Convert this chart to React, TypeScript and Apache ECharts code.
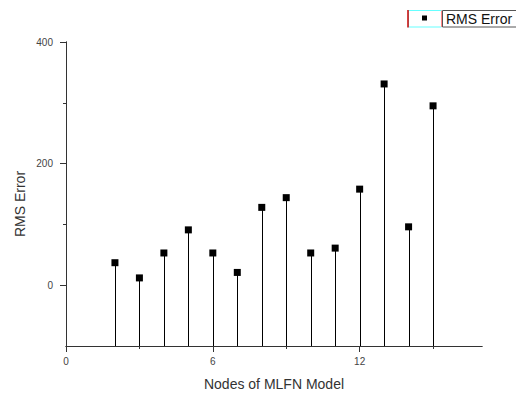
import React, { useEffect, useRef } from "react";
import * as echarts from "echarts";

const nodes = [2, 3, 4, 5, 6, 7, 8, 9, 10, 11, 12, 13, 14, 15];
const rmsError = [37, 12, 53, 91, 53, 21, 128, 144, 53, 61, 158, 331, 96, 295];
const xMajorTicks = [0, 6, 12];
const xMinorTicks = [3, 9, 15];
const yMajorTicks = [0, 200, 400];
const yMinorTicks = [100, 300];
const seriesName = "RMS Error";
const xName = "Nodes of MLFN Model";
const yName = "RMS Error";

const FONT = "'Liberation Sans', Arial, sans-serif";

export default function App() {
  const ref = useRef<HTMLDivElement>(null);
  useEffect(() => {
    if (!ref.current) return;
    const chart = echarts.init(ref.current, null, { renderer: "svg" });
    const data = nodes.map((n, i) => [n, rmsError[i]]);
    const yMin = -100;
    const yMax = 400;
    const xMin = 0;
    const xMax = 17;
    const grid = { left: 66, right: 34, top: 42, bottom: 46 };
    const axisColor = "#333";
    chart.setOption({
      animation: false,
      backgroundColor: "#fff",
      grid,
      xAxis: [
        {
          type: "value",
          min: xMin,
          max: xMax,
          position: "bottom",
          name: xName,
          nameLocation: "middle",
          nameGap: 31,
          nameTextStyle: { fontFamily: FONT, fontSize: 14, color: "#333" },
          axisLine: { show: true, onZero: false, lineStyle: { color: axisColor, width: 1 } },
          axisTick: { show: true, length: 6, customValues: xMajorTicks, lineStyle: { color: axisColor } },
          axisLabel: { customValues: xMajorTicks, margin: 10, fontFamily: FONT, fontSize: 10, color: "#444" },
          splitLine: { show: false },
        },
        {
          type: "value",
          min: xMin,
          max: xMax,
          position: "bottom",
          axisLine: { show: true, onZero: false, lineStyle: { color: axisColor, width: 1 } },
          axisTick: { show: true, length: 3, customValues: xMinorTicks, lineStyle: { color: axisColor } },
          axisLabel: { show: false },
          splitLine: { show: false },
        },
      ],
      yAxis: [
        {
          type: "value",
          min: yMin,
          max: yMax,
          position: "left",
          axisLine: { show: true, onZero: false, lineStyle: { color: axisColor, width: 1 } },
          axisTick: { show: true, length: 6, customValues: yMajorTicks, lineStyle: { color: axisColor } },
          axisLabel: { customValues: yMajorTicks, margin: 13, fontFamily: FONT, fontSize: 10, color: "#444" },
          splitLine: { show: false },
        },
        {
          type: "value",
          min: yMin,
          max: yMax,
          position: "left",
          axisLine: { show: true, onZero: false, lineStyle: { color: axisColor, width: 1 } },
          axisTick: { show: true, length: 3, customValues: yMinorTicks, lineStyle: { color: axisColor } },
          axisLabel: { show: false },
          splitLine: { show: false },
        },
      ],
      series: [
        {
          type: "custom",
          name: seriesName + " stems",
          xAxisIndex: 0,
          yAxisIndex: 0,
          data,
          renderItem: (params: any, api: any) => {
            const x = api.value(0);
            const y = api.value(1);
            const top = api.coord([x, y]);
            const bottom = api.coord([x, yMin]);
            return {
              type: "line",
              shape: { x1: Math.round(top[0]) + 0.5, y1: top[1], x2: Math.round(bottom[0]) + 0.5, y2: bottom[1] },
              style: { stroke: "#000", lineWidth: 1 },
            };
          },
          z: 2,
        },
        {
          type: "scatter",
          name: seriesName,
          xAxisIndex: 0,
          yAxisIndex: 0,
          data,
          symbol: "rect",
          symbolSize: 7,
          itemStyle: { color: "#000", opacity: 1 },
          z: 3,
        },
      ],
      graphic: [
        {
          type: "text",
          x: 20,
          y: 204,
          rotation: Math.PI / 2,
          style: {
            text: yName,
            fontFamily: FONT,
            fontSize: 14,
            fill: "#333",
            align: "center",
            verticalAlign: "middle",
          },
        },
        {
          type: "rect",
          shape: { x: 408.5, y: 10.5, width: 33, height: 16.5 },
          style: { fill: "#fff", stroke: "#66ffff", lineWidth: 1 },
        },
        {
          type: "line",
          shape: { x1: 408, y1: 10, x2: 408, y2: 27.5 },
          style: { stroke: "#cc0000", lineWidth: 1.5 },
        },
        {
          type: "line",
          shape: { x1: 441.5, y1: 10.5, x2: 441.5, y2: 27 },
          style: { stroke: "#ff8888", lineWidth: 1 },
        },
        {
          type: "rect",
          shape: { x: 422, y: 15.5, width: 5, height: 5 },
          style: { fill: "#000" },
        },
        {
          type: "rect",
          shape: { x: 442.5, y: 10.5, width: 80, height: 16.5 },
          style: { fill: "#fff", stroke: "#555", lineWidth: 1 },
        },
        {
          type: "text",
          x: 446,
          y: 19,
          style: {
            text: seriesName,
            fontFamily: FONT,
            fontSize: 14,
            fill: "#111",
            align: "left",
            verticalAlign: "middle",
          },
        },
      ],
    });
    return () => chart.dispose();
  }, []);
  return <div ref={ref} style={{ width: 516, height: 396, position: "fixed", left: 0, top: 0 }} />;
}
